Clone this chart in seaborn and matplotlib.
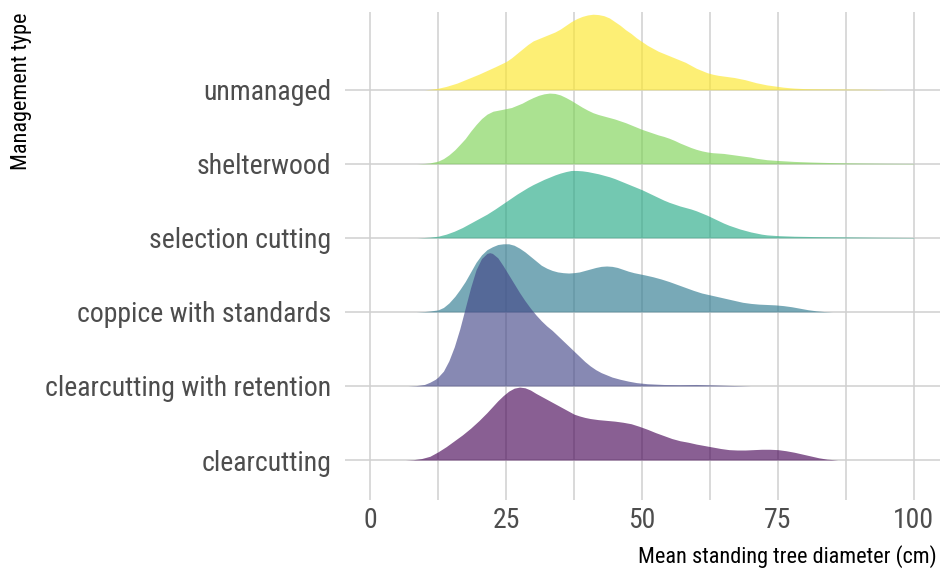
import matplotlib
matplotlib.use("Agg")
import matplotlib.pyplot as plt
import seaborn as sns
import pandas as pd

categories = ["clearcutting", "clearcutting with retention", "coppice with standards",
              "selection cutting", "shelterwood", "unmanaged"]
fill_colors = ["#440154", "#414487", "#2A788E", "#22A884", "#7AD151", "#FDE725"]
x_ticks = [0, 25, 50, 75, 100]

# density heights (in units of row spacing)
clearcutting_x = [6.5, 8, 9.5, 11, 12.5, 14, 15.5, 17, 18.5, 20, 21.5, 22.5, 23.5, 24.5, 25.5, 26.5, 27.5, 28.5, 29.5, 30.5, 31.5, 32.5, 33.5, 34.5, 35.5, 36.5, 37.5, 38.5, 39.5, 40.5, 42, 43.5, 45, 46.5, 48, 49.5, 51, 52.5, 54, 55.5, 57, 58.5, 60, 61.5, 63, 64.5, 66, 67.5, 69, 70.5, 72, 73.5, 75, 76.5, 78, 79.5, 81, 82.5, 84, 86]
clearcutting_h = [0.0, 0.005, 0.02, 0.05, 0.11, 0.18, 0.26, 0.34, 0.43, 0.53, 0.64, 0.72, 0.80, 0.87, 0.93, 0.97, 0.985, 0.975, 0.945, 0.90, 0.86, 0.82, 0.78, 0.74, 0.70, 0.66, 0.62, 0.595, 0.575, 0.56, 0.545, 0.535, 0.525, 0.51, 0.49, 0.455, 0.415, 0.37, 0.33, 0.29, 0.26, 0.24, 0.215, 0.195, 0.175, 0.155, 0.14, 0.135, 0.135, 0.14, 0.145, 0.145, 0.14, 0.125, 0.105, 0.08, 0.055, 0.03, 0.012, 0.0]

retention_x = [7, 8.5, 10, 11, 12, 12.5, 13.5, 14.5, 15.5, 16.5, 17.5, 18.5, 19.5, 20.5, 21.5, 22, 22.5, 23.5, 24.5, 25.5, 26.5, 27.5, 28.5, 29.5, 30.5, 31.5, 32.5, 33.5, 34.5, 35.5, 36.5, 37.5, 38.5, 39.5, 40.5, 41.5, 42.5, 43.5, 44.5, 46, 47.5, 49, 51, 54, 57, 60, 63, 66, 69, 70]
retention_h = [0.0, 0.005, 0.02, 0.05, 0.09, 0.12, 0.20, 0.34, 0.53, 0.77, 1.05, 1.33, 1.57, 1.72, 1.79, 1.80, 1.79, 1.73, 1.62, 1.50, 1.38, 1.26, 1.15, 1.05, 0.96, 0.88, 0.81, 0.75, 0.68, 0.61, 0.54, 0.47, 0.40, 0.33, 0.27, 0.22, 0.18, 0.15, 0.12, 0.09, 0.065, 0.045, 0.03, 0.02, 0.018, 0.02, 0.015, 0.008, 0.002, 0.0]

coppice_x = [8.5, 10, 11, 12.5, 13.5, 14.5, 15.6, 16.5, 17.5, 18.5, 19.5, 20.5, 21.5, 22.5, 23.5, 24.5, 25.5, 26.5, 27.5, 28.5, 29.5, 30.5, 31.5, 32.5, 33.5, 34.5, 35.5, 36.5, 37.5, 38.5, 39.5, 40.5, 41.5, 42.5, 43.5, 44.5, 45.5, 46.5, 47.5, 48.5, 49.5, 50.5, 52, 53.5, 55, 56.5, 58, 59.5, 61, 62.5, 64, 65.5, 67, 68.5, 70, 71.5, 73, 74.5, 76, 77.5, 79, 80.5, 82, 83.5, 85]
coppice_h = [0.0, 0.005, 0.012, 0.027, 0.06, 0.12, 0.21, 0.30, 0.41, 0.54, 0.67, 0.77, 0.84, 0.88, 0.91, 0.92, 0.92, 0.90, 0.86, 0.81, 0.75, 0.69, 0.63, 0.59, 0.56, 0.54, 0.53, 0.525, 0.53, 0.54, 0.56, 0.58, 0.60, 0.615, 0.62, 0.615, 0.60, 0.575, 0.55, 0.53, 0.515, 0.50, 0.475, 0.445, 0.41, 0.37, 0.33, 0.29, 0.255, 0.23, 0.205, 0.18, 0.155, 0.13, 0.115, 0.105, 0.10, 0.095, 0.085, 0.07, 0.05, 0.03, 0.015, 0.005, 0.0]

selection_x = [8.6, 10, 11, 12.5, 14, 15.5, 17, 18.5, 20, 21.5, 23, 24, 25, 26, 27, 28, 29, 30, 31, 32, 33, 34, 35, 36, 37, 38, 39, 40, 41, 42, 43, 44, 45, 46, 47, 48, 49, 50, 51, 52, 53, 54, 55, 56, 57, 58, 59, 60, 61, 62, 63, 64, 65, 66, 67, 68, 69, 70, 71, 72, 73, 75, 78, 82, 87.5, 94, 100]
selection_h = [0.0, 0.005, 0.01, 0.022, 0.05, 0.09, 0.14, 0.20, 0.26, 0.32, 0.39, 0.44, 0.49, 0.54, 0.59, 0.635, 0.68, 0.72, 0.755, 0.79, 0.82, 0.85, 0.875, 0.895, 0.91, 0.91, 0.905, 0.895, 0.88, 0.865, 0.845, 0.825, 0.80, 0.77, 0.74, 0.71, 0.68, 0.65, 0.615, 0.58, 0.545, 0.51, 0.48, 0.455, 0.43, 0.41, 0.39, 0.365, 0.335, 0.305, 0.27, 0.235, 0.20, 0.17, 0.145, 0.12, 0.10, 0.08, 0.065, 0.05, 0.04, 0.03, 0.022, 0.017, 0.013, 0.008, 0.005]

shelterwood_x = [8.6, 10, 11, 12.5, 13.5, 14.5, 15.6, 16.5, 17.5, 18.5, 19.5, 20.5, 21.5, 22.6, 24, 25, 26, 27, 28, 29, 30, 31, 32, 33, 34, 35, 36, 37, 38, 39, 40, 41, 42, 43, 44, 45, 46, 47, 48, 49, 50, 51, 52, 53, 54, 55, 56, 57, 58, 59, 60, 61, 62, 63, 64, 65, 66, 67, 68, 69, 70, 71, 72, 73, 75, 78, 81, 84, 87.5, 91, 95, 100]
shelterwood_h = [0.0, 0.005, 0.012, 0.036, 0.07, 0.12, 0.19, 0.26, 0.34, 0.44, 0.53, 0.61, 0.67, 0.71, 0.73, 0.745, 0.76, 0.79, 0.82, 0.86, 0.895, 0.925, 0.945, 0.955, 0.95, 0.93, 0.895, 0.855, 0.81, 0.765, 0.725, 0.69, 0.665, 0.645, 0.625, 0.605, 0.58, 0.555, 0.525, 0.495, 0.465, 0.44, 0.415, 0.39, 0.37, 0.345, 0.315, 0.28, 0.25, 0.22, 0.195, 0.175, 0.16, 0.15, 0.145, 0.14, 0.13, 0.12, 0.11, 0.10, 0.09, 0.075, 0.065, 0.055, 0.045, 0.032, 0.024, 0.018, 0.013, 0.01, 0.007, 0.005]

unmanaged_x = [10, 11, 12.5, 14, 16, 18, 20, 21.5, 23, 24, 25, 26, 27, 28, 29, 30, 31, 32, 33, 34, 35, 36, 37, 38, 39, 40, 41, 42, 43, 44, 45, 46, 47, 48, 49, 50, 51, 52, 53, 54, 55, 56, 57, 58, 59, 60, 61, 62, 63, 64, 65, 66, 67, 68, 69, 70, 71, 72, 73, 74, 75, 76, 77, 78, 80, 83, 87, 90, 93, 95]
unmanaged_h = [0.0, 0.005, 0.02, 0.045, 0.09, 0.15, 0.21, 0.26, 0.31, 0.345, 0.38, 0.43, 0.49, 0.55, 0.61, 0.66, 0.69, 0.72, 0.75, 0.78, 0.82, 0.87, 0.92, 0.96, 0.99, 1.01, 1.02, 1.015, 1.0, 0.97, 0.92, 0.87, 0.81, 0.76, 0.70, 0.65, 0.60, 0.56, 0.52, 0.49, 0.46, 0.43, 0.40, 0.37, 0.33, 0.29, 0.26, 0.23, 0.21, 0.195, 0.185, 0.175, 0.165, 0.15, 0.135, 0.115, 0.095, 0.08, 0.065, 0.055, 0.045, 0.035, 0.028, 0.022, 0.015, 0.012, 0.01, 0.008, 0.004, 0.0]

series = {
    "clearcutting": (clearcutting_x, clearcutting_h),
    "clearcutting with retention": (retention_x, retention_h),
    "coppice with standards": (coppice_x, coppice_h),
    "selection cutting": (selection_x, selection_h),
    "shelterwood": (shelterwood_x, shelterwood_h),
    "unmanaged": (unmanaged_x, unmanaged_h),
}

sns.set_theme(style="whitegrid")
plt.rcParams["font.family"] = ["Liberation Sans Narrow", "Roboto Condensed", "Roboto", "DejaVu Sans"]

fig = plt.figure(figsize=(9.44, 5.74), dpi=100)
ax = fig.add_axes([345 / 944, 1 - 500 / 574, (940 - 345) / 944, (500 - 12) / 574])

# top rows first so lower ridges overlay upper ones
for i in range(len(categories) - 1, -1, -1):
    cat = categories[i]
    xs, hs = series[cat]
    base = i + 1
    df = pd.DataFrame({"x": xs, "y": [base + h for h in hs]})
    ax.fill_between(df["x"], base, df["y"], color=fill_colors[i], alpha=0.63,
                    linewidth=0, zorder=2 + (len(categories) - i))

ax.set_xlim(-4.6, 104.8)
ax.set_ylim(0.46, 7.05)
ax.set_xticks(x_ticks)
ax.set_xticks([12.5, 37.5, 62.5, 87.5], minor=True)
ax.set_yticks(range(1, len(categories) + 1))
ax.set_yticklabels(categories)
ax.set_axisbelow(True)
ax.grid(True, which="both", axis="x", color="#d0d0d0", linewidth=1.1)
ax.grid(True, which="major", axis="y", color="#d0d0d0", linewidth=1.1)
for s in ax.spines.values():
    s.set_visible(False)
ax.set_facecolor("white")
ax.tick_params(axis="both", which="both", length=0, labelsize=20, labelcolor="#4d4d4d")
ax.tick_params(axis="y", pad=10)
ax.tick_params(axis="x", pad=5)
ax.set_xlabel("")
ax.set_ylabel("")

fig.text(937 / 944, 1 - 557 / 574, "Mean standing tree diameter (cm)", ha="right",
         va="center", fontsize=16, color="black")
fig.text(22 / 944, 1 - 12 / 574, "Management type", ha="center", va="top",
         rotation=90, fontsize=16, color="black")

fig.savefig("out.png", dpi=100, facecolor="white")
